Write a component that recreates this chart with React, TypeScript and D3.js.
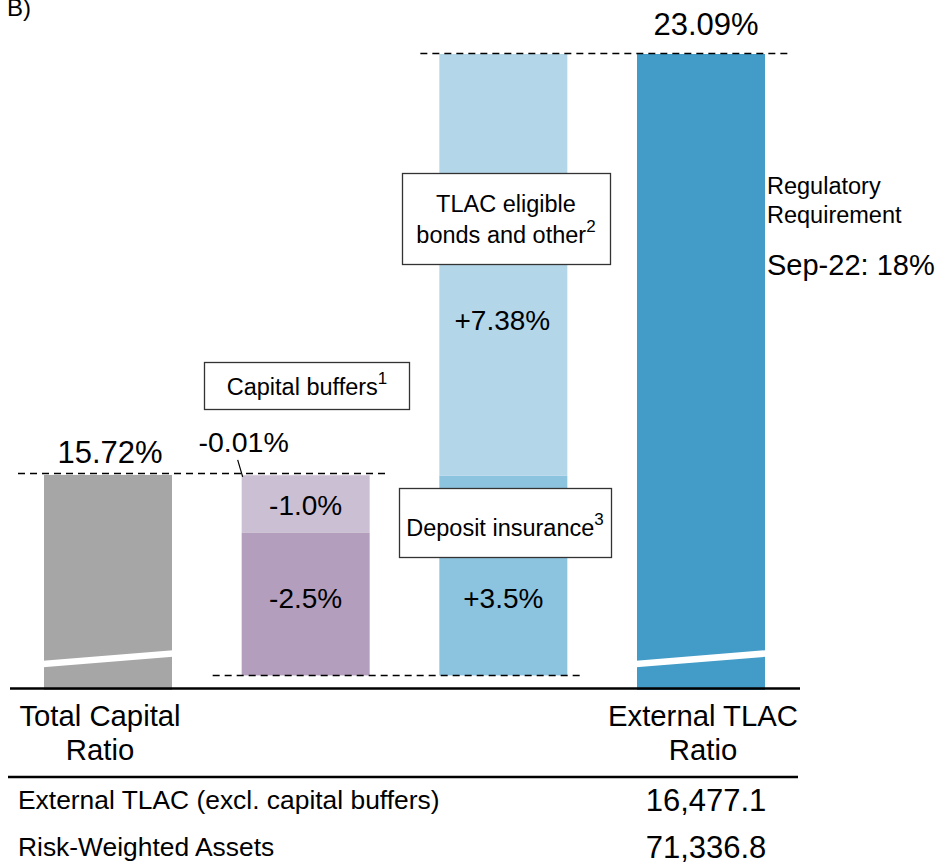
import React from "react";
import * as d3 from "d3";

// ---------- data ----------
const categories = ["Total Capital Ratio", "Capital buffers", "TLAC additions", "External TLAC Ratio"];
const startValue = 15.72; // Total Capital Ratio (%)
const bufferSteps = [-0.01, -1.0, -2.5]; // capital buffers (%)
const bufferLabels = ["-0.01%", "-1.0%", "-2.5%"];
const tlacSteps = [3.5, 7.38]; // deposit insurance, TLAC eligible bonds (%)
const tlacLabels = ["+3.5%", "+7.38%"];
const endValue = 23.09; // External TLAC Ratio (%)
const axisBaseValue = 11.99; // value at the (broken) baseline
const startLabel = "15.72%";
const endLabel = "23.09%";
const tableLabels = ["External TLAC (excl. capital buffers)", "Risk-Weighted Assets"];
const tableValues = ["16,477.1", "71,336.8"];

const FONT = "'Liberation Sans', Arial, Helvetica, sans-serif";

const colors = {
  total: "#a6a6a6",
  bufferLight: "#cbbfd4",
  bufferDark: "#b39fbd",
  tlacLight: "#b3d6e9",
  tlacMid: "#8cc3df",
  external: "#439bc8",
};

export default function App() {
  const W = 937;
  const H = 868;
  const baseY = 688;
  const y = d3.scaleLinear().domain([axisBaseValue, endValue]).range([baseY, 54]);
  const x = d3.scaleBand<string>().domain(categories).range([44, 765]).paddingInner(0.3525).paddingOuter(0);
  const bw = x.bandwidth();

  const bufSegs: { from: number; to: number; color: string; label: string }[] = [];
  let cur = startValue;
  bufferSteps.forEach((s, i) => {
    bufSegs.push({ from: cur, to: cur + s, color: i === 2 ? colors.bufferDark : colors.bufferLight, label: bufferLabels[i] });
    cur += s;
  });
  const bottomValue = cur;
  const tlacSegs: { from: number; to: number; color: string; label: string }[] = [];
  let c2 = bottomValue;
  tlacSteps.forEach((s, i) => {
    tlacSegs.push({ from: c2, to: c2 + s, color: i === 0 ? colors.tlacMid : colors.tlacLight, label: tlacLabels[i] });
    c2 += s;
  });

  const x0 = x(categories[0])!;
  const x1 = x(categories[1])!;
  const x2 = x(categories[2])!;
  const x3 = x(categories[3])!;

  const breakPoly = (bx: number) => {
    const yl = baseY - 24;
    const yr = baseY - 34.5;
    const t = 3.3;
    return `${bx - 1},${yl - t} ${bx + bw + 1},${yr - t} ${bx + bw + 1},${yr + t} ${bx - 1},${yl + t}`;
  };

  const dash = "7 5";
  const supSize = 17;

  return (
    <svg width={W} height={H} style={{ position: "absolute", left: 0, top: 0, background: "#fff" }} fontFamily={FONT}>
      <text x={7} y={16} fontSize={24} fill="#000">B)</text>

      {/* Bar 1: total capital */}
      <rect x={x0} y={y(startValue)} width={bw} height={baseY + 2 - y(startValue)} fill={colors.total} />
      <polygon points={breakPoly(x0)} fill="#fff" />

      {/* Bar 2: capital buffers */}
      {bufSegs.map((s, i) => (
        <rect key={"b" + i} x={x1} y={y(Math.max(s.from, s.to))} width={bw}
          height={Math.abs(y(s.to) - y(s.from))} fill={s.color} />
      ))}

      {/* Bar 3: TLAC additions */}
      {tlacSegs.map((s, i) => (
        <rect key={"t" + i} x={x2} y={y(Math.max(s.from, s.to))} width={bw}
          height={Math.abs(y(s.to) - y(s.from))} fill={s.color} />
      ))}

      {/* Bar 4: external TLAC */}
      <rect x={x3} y={y(endValue)} width={bw} height={baseY + 2 - y(endValue)} fill={colors.external} />
      <polygon points={breakPoly(x3)} fill="#fff" />

      {/* dashed connectors */}
      <line x1={x0 - 26} x2={x1 + bw + 20} y1={y(startValue) - 1.5} y2={y(startValue) - 1.5} stroke="#000" strokeWidth={1.6} strokeDasharray={dash} />
      <line x1={x1 - 29} x2={x2 + bw + 17} y1={y(bottomValue)} y2={y(bottomValue)} stroke="#000" strokeWidth={1.6} strokeDasharray={dash} />
      <line x1={x2 - 19} x2={x3 + bw + 27} y1={y(endValue) - 0.5} y2={y(endValue) - 0.5} stroke="#000" strokeWidth={1.6} strokeDasharray={dash} />

      {/* axis and table rule */}
      <line x1={10} x2={800} y1={baseY + 0.5} y2={baseY + 0.5} stroke="#000" strokeWidth={2.7} />
      <line x1={8} x2={798} y1={777} y2={777} stroke="#000" strokeWidth={2.5} />

      {/* value labels */}
      <text x={x0 + bw / 2 + 2} y={y(startValue) - 12} fontSize={31} textAnchor="middle">{startLabel}</text>
      <text x={x3 + bw / 2 + 5} y={y(endValue) - 19} fontSize={31} textAnchor="middle">{endLabel}</text>

      {/* -0.01% label with leader */}
      <text x={x1 + 2} y={y(bufSegs[0].from) - 23} fontSize={28.5} textAnchor="middle">{bufSegs[0].label}</text>
      <line x1={x1 - 4} y1={y(bufSegs[0].from) - 15} x2={x1 + 1} y2={y(bufSegs[0].from) + 2} stroke="#000" strokeWidth={1.2} />

      <text x={x1 + bw / 2} y={(y(bufSegs[1].from) + y(bufSegs[1].to)) / 2} dy="0.38em" fontSize={28} textAnchor="middle">{bufSegs[1].label}</text>
      <text x={x1 + bw / 2} y={y(bufSegs[2].to) - 67} fontSize={28} textAnchor="middle">{bufSegs[2].label}</text>
      <text x={x2 + bw / 2} y={y(tlacSegs[0].from) - 67} fontSize={28} textAnchor="middle">{tlacSegs[0].label}</text>
      <text x={x2 + bw / 2 - 1} y={y(tlacSegs[1].from) - 146} fontSize={28} textAnchor="middle">{tlacSegs[1].label}</text>

      {/* annotation boxes */}
      <rect x={204.5} y={362.5} width={205} height={47} fill="#fff" stroke="#333" strokeWidth={1.3} />
      <text x={307} y={395} fontSize={23.5} textAnchor="middle">
        Capital buffers<tspan fontSize={supSize} dy={-11}>1</tspan>
      </text>

      <rect x={402.5} y={173.5} width={208} height={91} fill="#fff" stroke="#333" strokeWidth={1.3} />
      <text x={506} y={212} fontSize={23.5} textAnchor="middle">TLAC eligible</text>
      <text x={506} y={243} fontSize={23.5} textAnchor="middle">
        bonds and other<tspan fontSize={supSize} dy={-11}>2</tspan>
      </text>

      <rect x={399.5} y={488.5} width={212} height={69} fill="#fff" stroke="#333" strokeWidth={1.3} />
      <text x={505} y={536} fontSize={23.5} textAnchor="middle">
        Deposit insurance<tspan fontSize={supSize} dy={-11}>3</tspan>
      </text>

      {/* regulatory requirement */}
      <text x={767} y={194} fontSize={23.5}>Regulatory</text>
      <text x={767} y={222.5} fontSize={23.5}>Requirement</text>
      <text x={767} y={275} fontSize={29}>Sep-22: 18%</text>

      {/* category labels */}
      <text x={100} y={726} fontSize={29.3} textAnchor="middle">Total Capital</text>
      <text x={100} y={760} fontSize={29.3} textAnchor="middle">Ratio</text>
      <text x={703} y={726} fontSize={29.3} textAnchor="middle">External TLAC</text>
      <text x={703} y={760} fontSize={29.3} textAnchor="middle">Ratio</text>

      {/* table */}
      {tableLabels.map((l, i) => (
        <text key={"tl" + i} x={18} y={809 + i * 47} fontSize={26.4}>{l}</text>
      ))}
      {tableValues.map((v, i) => (
        <text key={"tv" + i} x={706} y={811 + i * 47} fontSize={31} textAnchor="middle">{v}</text>
      ))}
    </svg>
  );
}
